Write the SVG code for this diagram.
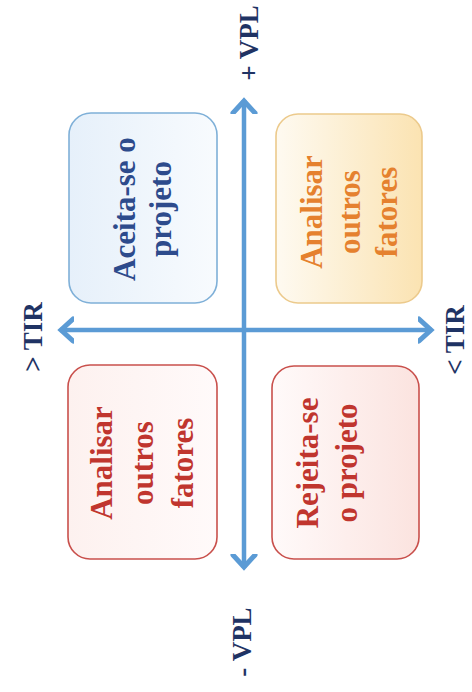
<svg xmlns="http://www.w3.org/2000/svg" width="472" height="692" viewBox="0 0 472 692">
  <style>
    .axis { stroke: #5b9bd5; stroke-width: 4.5; fill: none; }
    .box { stroke-width: 1.6; }
    .lbl { font-family: "Liberation Serif", "Times New Roman", serif; font-weight: bold; font-size: 27px; fill: #1f3364; text-anchor: middle; }
    .txt { font-family: "Liberation Serif", "Times New Roman", serif; font-weight: bold; font-size: 31px; text-anchor: middle; }
  </style>
  <defs>
    <marker id="head" viewBox="-14 -14 28 28" markerWidth="28" markerHeight="28" refX="0" refY="0" orient="auto-start-reverse" markerUnits="userSpaceOnUse">
      <path d="M-13,-11 L-1,0 L-13,11" fill="none" stroke="#5b9bd5" stroke-width="5" stroke-linejoin="miter" stroke-linecap="round"/>
    </marker>
    <linearGradient id="gBlue" x1="0" y1="0" x2="1" y2="0">
      <stop offset="0" stop-color="#e6f0fa"/>
      <stop offset="1" stop-color="#f8fbfe"/>
    </linearGradient>
    <linearGradient id="gGold" x1="0" y1="0" x2="1" y2="0">
      <stop offset="0" stop-color="#fefaf1"/>
      <stop offset="1" stop-color="#fbe3b2"/>
    </linearGradient>
    <linearGradient id="gRoseL" x1="0" y1="0" x2="1" y2="0">
      <stop offset="0" stop-color="#fdf1ef"/>
      <stop offset="1" stop-color="#fffafa"/>
    </linearGradient>
    <linearGradient id="gRoseR" x1="0" y1="0" x2="1" y2="0">
      <stop offset="0" stop-color="#fffafa"/>
      <stop offset="1" stop-color="#fbe3df"/>
    </linearGradient>
  </defs>

  <!-- axes with arrowheads at both ends -->
  <g id="connectors">
    <line class="axis" x1="60" y1="330" x2="432" y2="330" marker-start="url(#head)" marker-end="url(#head)"/>
    <line class="axis" x1="244" y1="100" x2="244" y2="568" marker-start="url(#head)" marker-end="url(#head)"/>
  </g>

  <!-- quadrants -->
  <g id="accept">
    <rect class="box" x="69" y="113" width="148" height="190" rx="22" fill="url(#gBlue)" stroke="#7fb0d8"/>
    <g transform="translate(143,209) rotate(-90)" class="txt" fill="#2d4b8c">
      <text><tspan x="0" y="-8">Aceita-se o</tspan><tspan x="0" y="28">projeto</tspan></text>
    </g>
  </g>

  <g id="analyze-top">
    <rect class="box" x="276" y="114" width="146" height="189" rx="22" fill="url(#gGold)" stroke="#ecca8c"/>
    <g transform="translate(349,212) rotate(-90)" class="txt" fill="#e5812e">
      <text><tspan x="0" y="-27">Analisar</tspan><tspan x="0" y="11">outros</tspan><tspan x="0" y="48">fatores</tspan></text>
    </g>
  </g>

  <g id="analyze-bottom">
    <rect class="box" x="68" y="365" width="149" height="194" rx="22" fill="url(#gRoseL)" stroke="#c9504c"/>
    <g transform="translate(143,463) rotate(-90)" class="txt" fill="#c0352e">
      <text><tspan x="0" y="-31">Analisar</tspan><tspan x="0" y="10">outros</tspan><tspan x="0" y="50">fatores</tspan></text>
    </g>
  </g>

  <g id="reject">
    <rect class="box" x="272" y="366" width="147" height="193" rx="22" fill="url(#gRoseR)" stroke="#c9504c"/>
    <g transform="translate(337,463) rotate(-90)" class="txt" fill="#c0352e">
      <text><tspan x="0" y="-19">Rejeita-se</tspan><tspan x="0" y="20">o projeto</tspan></text>
    </g>
  </g>

  <!-- axis labels -->
  <g id="label-vpl-plus"><text class="lbl" transform="translate(258,43) rotate(-90)">+ VPL</text></g>
  <g id="label-tir-greater"><text class="lbl" transform="translate(42,337) rotate(-90)">&gt; TIR</text></g>
  <g id="label-tir-less"><text class="lbl" transform="translate(464,340) rotate(-90)">&lt; TIR</text></g>
  <g id="label-vpl-minus"><text class="lbl" transform="translate(251,642) rotate(-90)">- VPL</text></g>
</svg>
